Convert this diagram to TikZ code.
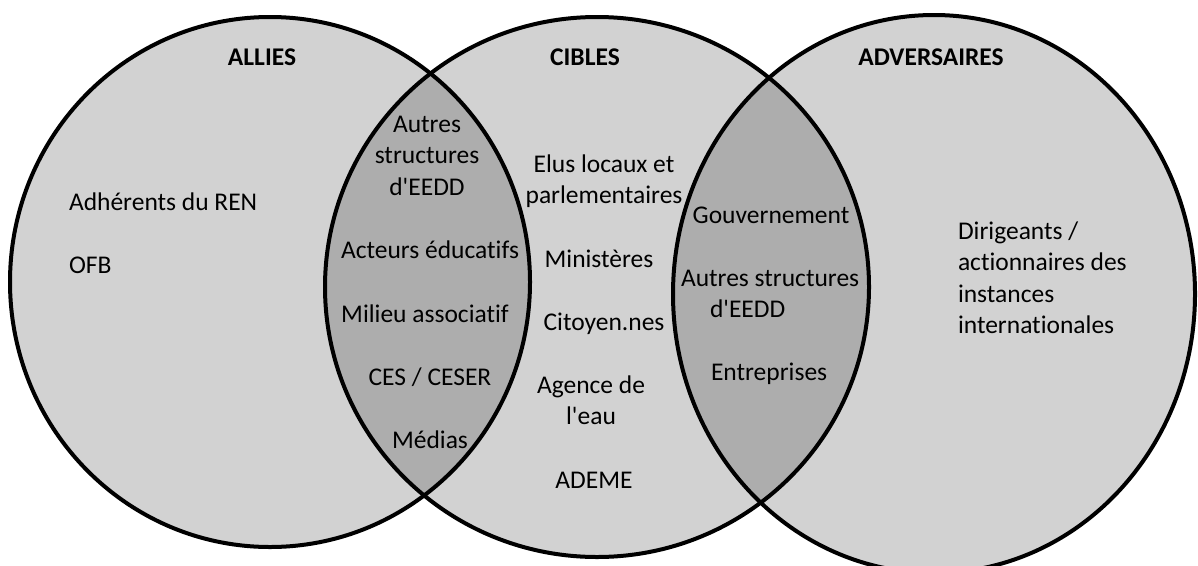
\documentclass[tikz,border=0pt]{standalone}
\usepackage{fontspec}
\setmainfont{Carlito}[Ligatures={TeXOff,NoCommon}]
\definecolor{circfill}{RGB}{210,210,210}
\definecolor{lensfill}{RGB}{173,173,173}
\newcommand\mlc[1]{\begin{tabular}[t]{@{}c@{}}#1\end{tabular}}
\newcommand\mll[1]{\begin{tabular}[t]{@{}l@{}}#1\end{tabular}}
\begin{document}
\begin{tikzpicture}[x=1pt,y=-1pt,
  every node/.style={inner sep=0pt,outer sep=0pt,font=\fontsize{25.5}{31.5}\selectfont},
  txt/.style={anchor=base},
  txtl/.style={anchor=base west},
  ttl/.style={anchor=base,font=\bfseries\fontsize{25.5}{31.5}\selectfont},
  outline/.style={line width=4pt,black}]
\useasboundingbox (0,0) rectangle (1198,565);
\fill[white] (0,0) rectangle (1198,565);
% circles
\fill[circfill] (270,282) ellipse [x radius=260, y radius=265];
\fill[circfill] (597,287) ellipse [x radius=272, y radius=270];
\fill[circfill] (934,294) ellipse [x radius=261, y radius=279];
% lenses
\begin{scope}
  \clip (270,282) ellipse [x radius=260, y radius=265];
  \fill[lensfill] (597,287) ellipse [x radius=272, y radius=270];
\end{scope}
\begin{scope}
  \clip (597,287) ellipse [x radius=272, y radius=270];
  \fill[lensfill] (934,294) ellipse [x radius=261, y radius=279];
\end{scope}
% outlines
\draw[outline] (270,282) ellipse [x radius=260, y radius=265];
\draw[outline] (597,287) ellipse [x radius=272, y radius=270];
\draw[outline] (934,294) ellipse [x radius=261, y radius=279];
% titles
\node[ttl] (allies) at (262,65) {ALLIES};
\node[ttl] (cibles) at (585,65) {CIBLES};
\node[ttl] (adv) at (931,65) {ADVERSAIRES};
% left
\node[txtl] (ren) at (69,210) {Adhérents du REN};
\node[txtl] (ofb) at (69,273) {OFB};
% lens 1
\node[txt] (autres1) at (427,132) {\mlc{Autres\\structures\\d'EEDD}};
\node[txt] (acteurs) at (430,258) {Acteurs éducatifs};
\node[txt] (milieu) at (425,322) {Milieu associatif};
\node[txt] (ces) at (430,385) {CES / CESER};
\node[txt] (medias) at (430,448) {Médias};
% middle
\node[txt] (elus) at (604,172) {\mlc{Elus locaux et\\parlementaires}};
\node[txt] (minist) at (599,267) {Ministères};
\node[txt] (citoy) at (604,330) {Citoyen.nes};
\node[txt] (agence) at (591,393) {\mlc{Agence de\\l'eau}};
\node[txt] (ademe) at (594,488) {ADEME};
% lens 2
\node[txt] (gouv) at (771,223) {Gouvernement};
\node[txtl] (autres2) at (681,286) {\mll{Autres structures\\\hspace*{29pt}d'EEDD}};
\node[txtl] (entr) at (711,380) {Entreprises};
% right
\node[txtl] (dirig) at (958,239) {\mll{Dirigeants /\\actionnaires des\\instances\\internationales}};
\end{tikzpicture}
\end{document}
